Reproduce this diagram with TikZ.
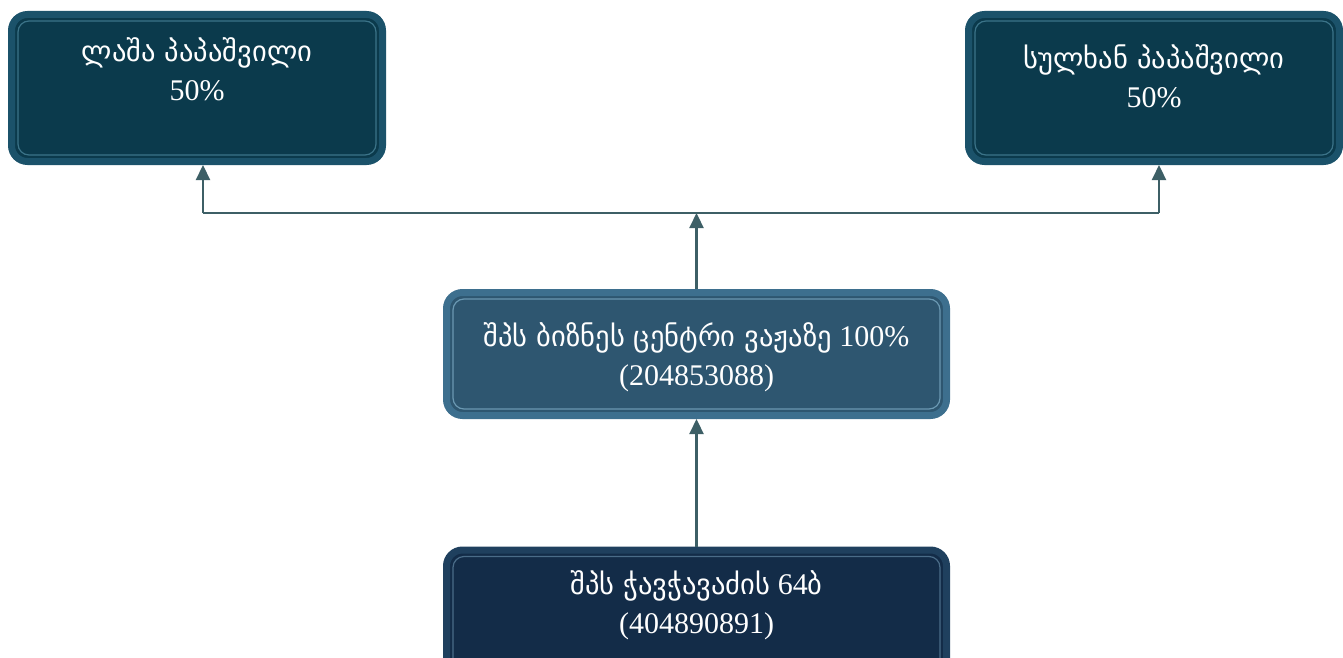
\documentclass[tikz,border=0pt]{standalone}
\usepackage{fontspec}
\setmainfont{Liberation Serif}
\newfontfamily\geo[Scale=0.95]{DejaVu Sans}
\usetikzlibrary{calc,arrows.meta}
\definecolor{topfill}{HTML}{0B3A4C}
\definecolor{topedge}{HTML}{1B526A}
\definecolor{tophi}{HTML}{3B7388}
\definecolor{midfill}{HTML}{2E5670}
\definecolor{midedge}{HTML}{3D6F8E}
\definecolor{midhi}{HTML}{6A98B2}
\definecolor{botfill}{HTML}{132C48}
\definecolor{botedge}{HTML}{1F405E}
\definecolor{bothi}{HTML}{4A6C88}
\definecolor{conn}{HTML}{3D5F66}
\tikzset{
  box/.style={rounded corners=16pt, line width=7pt, inner sep=0pt},
  topbox/.style={box, draw=topedge, fill=topfill, minimum width=371pt, minimum height=147pt},
  midbox/.style={box, draw=midedge, fill=midfill, minimum width=500pt, minimum height=123pt},
  botbox/.style={box, draw=botedge, fill=botfill, minimum width=500pt, minimum height=140pt},
  hiline/.style={line width=1.2pt, rounded corners=11pt},
  lbl/.style={text=white, font=\fontsize{30}{39}\selectfont, align=center, inner sep=0pt},
  conline/.style={draw=conn, line width=2.2pt},
  arr/.style={conline, -{Triangle[width=14pt,length=15pt]}}
}
\begin{document}
\begin{tikzpicture}[x=1pt,y=-1pt]
\useasboundingbox (0,0) rectangle (1343,658);
% boxes
\node[topbox] (lasha) at (197,88) {};
\node[topbox] (sulkhan) at (1154,88) {};
\node[midbox] (biz) at (696.5,354) {};
\node[botbox] (chav) at (696.5,620) {};
% highlight lines
\draw[hiline, draw=tophi] ($(lasha.north west)+(10,10)$) rectangle ($(lasha.south east)+(-10,-10)$);
\draw[hiline, draw=tophi] ($(sulkhan.north west)+(10,10)$) rectangle ($(sulkhan.south east)+(-10,-10)$);
\draw[hiline, draw=midhi] ($(biz.north west)+(10,10)$) rectangle ($(biz.south east)+(-10,-10)$);
\draw[hiline, draw=bothi] ($(chav.north west)+(10,10)$) rectangle ($(chav.south east)+(-10,-10)$);
% labels
\node[lbl] (lashaT) at (197,69) {{\geo ლაშა პაპაშვილი}\\50\%};
\node[lbl] (sulkhanT) at (1154,76) {{\geo სულხან პაპაშვილი}\\50\%};
\node[lbl] (bizT) at (696.5,357) {{\geo შპს ბიზნეს ცენტრი ვაჟაზე} 100\%\\(204853088)};
\node[lbl] (chavT) at (696.5,605) {{\geo შპს ჭავჭავაძის} 64{\geo ბ}\\(404890891)};
% connectors
\coordinate (jL) at (203,213);
\coordinate (jM) at (696.5,213);
\coordinate (jR) at (1159,213);
\draw[conline] (jL) -- (jR);
\draw[arr] (jL) -- (jL |- lasha.south);
\draw[arr] (jR) -- (jR |- sulkhan.south);
\draw[arr] (biz.north) -- (jM);
\draw[arr] (chav.north) -- (biz.south);
\end{tikzpicture}
\end{document}
